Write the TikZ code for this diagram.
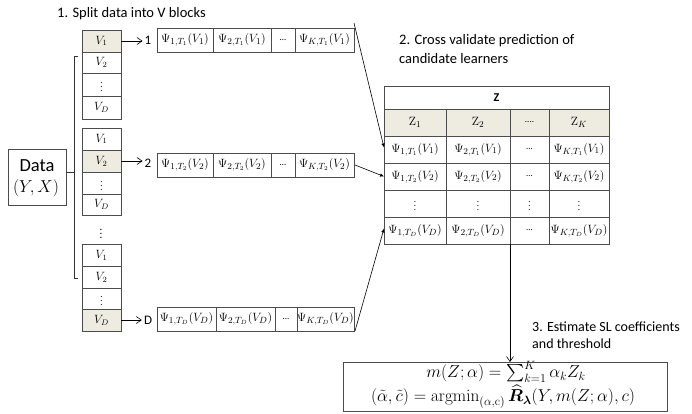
\documentclass[tikz,border=0pt]{standalone}
\usepackage{amsmath,bm}
\usepackage[no-math]{fontspec}
\setmainfont{Carlito}
\usetikzlibrary{arrows.meta}
\definecolor{shade}{HTML}{EEECE1}
\newcommand\mkcell[6][]{%
  \node[cell,#1,minimum width={#4pt-#2pt},minimum height={#5pt-#3pt}] (#6) at (#2,#3) {};}
\begin{document}
\begin{tikzpicture}[x=1pt,y=-1pt,
  cell/.style={draw=black!70,line width=0.8pt,anchor=north west,inner sep=0pt,outer sep=0pt},
  lbl/.style={font=\fontsize{14.5}{16}\selectfont,inner sep=0pt,anchor=west},
  txt/.style={inner sep=0pt,font=\fontsize{12.5}{14}\selectfont},
  small/.style={inner sep=0pt,font=\fontsize{9}{10}\selectfont},
  blk/.style={inner sep=0pt,font=\fontsize{12}{13}\selectfont},
  openarrow/.style={-{Straight Barb[length=5pt,width=7pt]},line width=0.6pt},
  solidarrow/.style={-{Latex[length=4pt,width=3.5pt]},line width=0.6pt}]
\useasboundingbox (0,0) rectangle (692,414);

% titles
\node[lbl] (t1) at (57,14) {1. Split data into V blocks};
\node[lbl] (t2a) at (399,41) {2. Cross validate prediction of};
\node[lbl] (t2b) at (399,59) {candidate learners};
\node[lbl,font=\fontsize{14}{16}\selectfont] (t3a) at (532,327) {3. Estimate SL coefficients};
\node[lbl,font=\fontsize{14}{16}\selectfont] (t3b) at (532,344) {and threshold};

% data box
\node[cell,minimum width=58pt,minimum height=56pt] (data) at (8,149) {};
\node[inner sep=0pt,font=\fontsize{18.5}{20}\selectfont] (dataA) at (37,166) {Data};
\node[inner sep=0pt,font=\fontsize{19}{20}\selectfont] (dataB) at (36,188) {$(Y,X)$};

% bracket
\coordinate (bt) at (78,56);
\coordinate (bb) at (78,278);
\coordinate (dj) at (74,172);
\draw[black!80,line width=0.8pt] (bt) -- (74,56) -- (74,278) -- (bb);
\draw[black!80,line width=0.8pt] (data.east |- dj) -- (dj);

% left blocks
\mkcell[fill=shade]{82}{30}{121}{52}{a1}
\mkcell{82}{52}{121}{73}{a2}
\mkcell{82}{73}{121}{96}{a3}
\mkcell{82}{96}{121}{119}{a4}
\mkcell{82}{128}{121}{150}{b1}
\mkcell[fill=shade]{82}{150}{121}{172}{b2}
\mkcell{82}{172}{121}{194}{b3}
\mkcell{82}{194}{121}{215}{b4}
\mkcell{82}{244}{121}{266}{c1}
\mkcell{82}{266}{121}{288}{c2}
\mkcell{82}{288}{121}{309}{c3}
\mkcell[fill=shade]{82}{309}{121}{331}{c4}
\foreach \g in {a,b,c}{
  \node[blk] at (\g1) {$V_1$};
  \node[blk] at (\g2) {$V_2$};
  \node[small] at (\g3) {$\vdots$};
  \node[blk] at (\g4) {$V_D$};
}
\node[inner sep=0pt,font=\fontsize{11}{12}\selectfont] (mdots) at (101,231) {$\vdots$};

% row boxes
\mkcell{157}{28}{213}{52}{r11}
\mkcell{213}{28}{271}{52}{r12}
\mkcell{271}{28}{295}{52}{r13}
\mkcell{295}{28}{354}{52}{r14}
\mkcell{157}{153}{213}{177}{r21}
\mkcell{213}{153}{271}{177}{r22}
\mkcell{271}{153}{295}{177}{r23}
\mkcell{295}{153}{354}{177}{r24}
\mkcell{157}{307}{216}{331}{r31}
\mkcell{216}{307}{275}{331}{r32}
\mkcell{275}{307}{297}{331}{r33}
\mkcell{297}{307}{354}{331}{r34}
\node[txt] at (r11) {$\Psi_{1,T_1}(V_1)$};
\node[txt] at (r12) {$\Psi_{2,T_1}(V_1)$};
\node[small] at (r13) {…};
\node[txt] at (r14) {$\Psi_{K,T_1}(V_1)$};
\node[txt] at (r21) {$\Psi_{1,T_2}(V_2)$};
\node[txt] at (r22) {$\Psi_{2,T_2}(V_2)$};
\node[small] at (r23) {…};
\node[txt] at (r24) {$\Psi_{K,T_2}(V_2)$};
\node[txt] at (r31) {$\Psi_{1,T_D}(V_D)$};
\node[txt] at (r32) {$\Psi_{2,T_D}(V_D)$};
\node[small] at (r33) {…};
\node[txt] at (r34) {$\Psi_{K,T_D}(V_D)$};

% row labels
\node[lbl,anchor=center,font=\fontsize{13}{14}\selectfont] (l1) at (148,40) {1};
\node[lbl,anchor=center,font=\fontsize{13}{14}\selectfont] (l2) at (148,163) {2};
\node[lbl,anchor=center,font=\fontsize{13}{14}\selectfont] (l3) at (148,320) {D};
\draw[openarrow] (a1.east) -- ([xshift=-2pt]a1.east -| l1.west);
\draw[openarrow] (b2.east) -- ([xshift=-2pt]b2.east -| l2.west);
\draw[openarrow] (c4.east) -- ([xshift=-2pt]c4.east -| l3.west);

% table
\mkcell{384}{86}{609}{109}{zh}
\node[inner sep=0pt,font=\fontsize{12}{13}\selectfont\bfseries] at (zh) {Z};
\mkcell[fill=shade]{384}{109}{446}{136}{h1}
\mkcell[fill=shade]{446}{109}{510}{136}{h2}
\mkcell[fill=shade]{510}{109}{549}{136}{h3}
\mkcell[fill=shade]{549}{109}{609}{136}{h4}
\node[txt] at (h1) {$\mathrm{Z}_1$};
\node[txt] at (h2) {$\mathrm{Z}_2$};
\node[small] at (h3) {....};
\node[txt] at (h4) {$\mathrm{Z}_K$};
\foreach \r/\ya/\yb in {1/136/163,2/163/190,3/190/217,4/217/244}{
  \mkcell{384}{\ya}{446}{\yb}{t\r1}
  \mkcell{446}{\ya}{510}{\yb}{t\r2}
  \mkcell{510}{\ya}{549}{\yb}{t\r3}
  \mkcell{549}{\ya}{609}{\yb}{t\r4}
}
\node[txt] at (t11) {$\Psi_{1,T_1}(V_1)$};
\node[txt] at (t12) {$\Psi_{2,T_1}(V_1)$};
\node[small] at (t13) {…};
\node[txt] at (t14) {$\Psi_{K,T_1}(V_1)$};
\node[txt] at (t21) {$\Psi_{1,T_2}(V_2)$};
\node[txt] at (t22) {$\Psi_{2,T_2}(V_2)$};
\node[small] at (t23) {…};
\node[txt] at (t24) {$\Psi_{K,T_2}(V_2)$};
\foreach \c in {1,2,3,4}{\node[small] at (t3\c) {$\vdots$};}
\node[txt] at (t41) {$\Psi_{1,T_D}(V_D)$};
\node[txt] at (t42) {$\Psi_{2,T_D}(V_D)$};
\node[small] at (t43) {…};
\node[txt] at (t44) {$\Psi_{K,T_D}(V_D)$};

% connectors to table
\draw[solidarrow] ([yshift=5pt]r14.north east) -- ([yshift=2pt]t11.west);
\draw[solidarrow] ([xshift=1pt]r24.east) -- (t21.west);
\draw[solidarrow] ([xshift=1pt]r34.south east) -- ([yshift=2pt]t41.west);

% formula box
\node[cell,minimum width=324pt,minimum height=49pt] (F) at (343,362) {};
\node[inner sep=0pt,font=\fontsize{17}{19}\selectfont] (f1) at (506,372)
  {$m(Z;\alpha)=\sum_{k=1}^{K}\alpha_k Z_k$};
\node[inner sep=0pt,font=\fontsize{17}{19}\selectfont] (f2) at (503,397)
  {$(\tilde\alpha,\tilde c)=\operatorname{argmin}_{(\alpha,\mathrm{c})}\widehat{\bm R}_{\bm\lambda}(Y,m(Z;\alpha),c)$};
\draw[openarrow] (t43.south west) -- (t43.south west |- F.north);
\end{tikzpicture}
\end{document}
